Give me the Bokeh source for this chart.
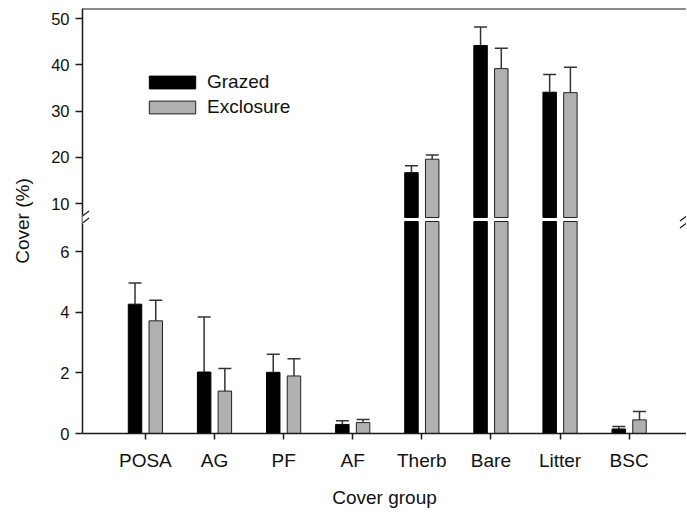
from bokeh.plotting import figure
from bokeh.models import (Range1d, ColumnDataSource, FixedTicker, Whisker, TeeHead,
                          Legend, LegendItem, Span, Arrow)
from bokeh.embed import file_html
from bokeh.resources import INLINE

# ---------------- data ----------------
categories = ["POSA", "AG", "PF", "AF", "Therb", "Bare", "Litter", "BSC"]
grazed = [4.27, 2.03, 2.02, 0.30, 16.7, 44.2, 34.1, 0.15]
grazed_err = [0.70, 1.82, 0.60, 0.12, 1.5, 4.0, 3.8, 0.08]
exclosure = [3.72, 1.40, 1.90, 0.36, 19.6, 39.2, 34.0, 0.45]
exclosure_err = [0.68, 0.75, 0.57, 0.10, 0.9, 4.4, 5.5, 0.28]
lower_ticks = [0, 2, 4, 6]
upper_ticks = [10, 20, 30, 40, 50]

# ---------------- layout constants ----------------
BREAK = 7.0
UPPER_TOP = 52.2
FRAME_W, FRAME_H = 604, 425
LOWER_PX, GAP_PX = 212, 4
UPPER_PX = FRAME_H - LOWER_PX - GAP_PX
X_START, X_END = 0.09, 8.83
DODGE, BAR_W = 0.15, 0.195
FONT = "Liberation Sans"
AX_COLOR = "#1a1a1a"
GRAY = "#b0b0b0"

main_end = BREAK * FRAME_H / LOWER_PX
px_main = FRAME_H / main_end
up_per_px = (UPPER_TOP - BREAK) / UPPER_PX
upper_start = BREAK - (LOWER_PX + GAP_PX) * up_per_px
px_x = FRAME_W / (X_END - X_START)


def upper_to_main(v):
    px = LOWER_PX + GAP_PX + (v - BREAK) / up_per_px
    return round(px / px_main, 6)


p = figure(frame_width=FRAME_W, frame_height=FRAME_H,
           x_range=Range1d(X_START, X_END), y_range=Range1d(0, main_end),
           output_backend="svg", toolbar_location=None,
           min_border_left=82, min_border_right=0, min_border_top=8, min_border_bottom=72)
p.extra_y_ranges = {"upper": Range1d(upper_start, UPPER_TOP)}
p.outline_line_color = None
p.xgrid.visible = False
p.ygrid.visible = False
p.background_fill_color = "white"

idx = list(range(1, len(categories) + 1))

series = [("Grazed", grazed, grazed_err, -DODGE, "black", "black"),
          ("Exclosure", exclosure, exclosure_err, DODGE, GRAY, "#222222")]
legend_items = []
for name, vals, errs, off, fill, line in series:
    xs = [i + off for i in idx]
    low_src = ColumnDataSource(dict(x=xs, top=[min(v, BREAK) for v in vals]))
    r = p.vbar(x="x", top="top", bottom=0, width=BAR_W, source=low_src,
               fill_color=fill, line_color=line, line_width=1)
    legend_items.append(LegendItem(label=name, renderers=[r]))
    up = [(x, v) for x, v in zip(xs, vals) if v > BREAK]
    up_src = ColumnDataSource(dict(x=[a for a, _ in up], top=[b for _, b in up]))
    p.vbar(x="x", top="top", bottom=BREAK, width=BAR_W, source=up_src,
           fill_color=fill, line_color=line, line_width=1, y_range_name="upper")
    # error bars
    lo = [(x, v, e) for x, v, e in zip(xs, vals, errs) if v <= BREAK]
    hi = [(x, v, e) for x, v, e in zip(xs, vals, errs) if v > BREAK]
    for grp, rng in ((lo, "default"), (hi, "upper")):
        src = ColumnDataSource(dict(x=[g[0] for g in grp], lower=[g[1] for g in grp],
                                    upper=[g[1] + g[2] for g in grp]))
        w = Whisker(base="x", lower="lower", upper="upper", source=src, dimension="height",
                    line_color="#333333", line_width=1.5, lower_head=None,
                    upper_head=TeeHead(size=13, line_color="#333333", line_width=1.5),
                    level="annotation")
        if rng == "upper":
            w.y_range_name = "upper"
        p.add_layout(w)

# axes
p.xaxis.ticker = FixedTicker(ticks=idx)
p.xaxis.major_label_overrides = {i: c for i, c in zip(idx, categories)}
p.xaxis.axis_label = "Cover group"
mapped = [upper_to_main(v) for v in upper_ticks]
p.yaxis.ticker = FixedTicker(ticks=lower_ticks + mapped)
p.yaxis.major_label_overrides = {m: str(v) for m, v in zip(mapped, upper_ticks)}
p.yaxis.axis_label = "Cover (%)"
for ax in (p.xaxis[0], p.yaxis[0]):
    ax.axis_line_color = AX_COLOR
    ax.axis_line_width = 1.5
    ax.major_tick_line_color = AX_COLOR
    ax.major_tick_line_width = 1.5
    ax.major_tick_in = 0
    ax.minor_tick_line_color = None
    ax.major_label_text_font = FONT
    ax.major_label_text_color = "#111111"
    ax.axis_label_text_font = FONT
    ax.axis_label_text_font_size = "19px"
    ax.axis_label_text_font_style = "normal"
    ax.axis_label_text_color = "#111111"
p.xaxis.major_label_text_font_size = "19px"
p.yaxis.major_label_text_font_size = "16.5px"
p.xaxis.major_tick_out = 6
p.xaxis.major_label_standoff = 10
p.xaxis.axis_label_standoff = 13
p.yaxis.major_tick_out = 7
p.yaxis.major_label_standoff = 6
p.yaxis.axis_label_standoff = 15

# top border
p.add_layout(Span(location=UPPER_TOP, dimension="width", y_range_name="upper",
                  line_color=AX_COLOR, line_width=2))

# axis break marks
bc = (LOWER_PX + GAP_PX / 2) / px_main
for xb in (X_START, X_END):
    p.add_layout(Arrow(end=None, x_start=xb, x_end=xb,
                       y_start=bc - 4.5 / px_main, y_end=bc + 4.5 / px_main,
                       line_color="white", line_width=4))
    for dy in (-3.5, 3.5):
        yc = bc + dy / px_main
        p.add_layout(Arrow(end=None, x_start=xb - 6.5 / px_x, x_end=xb + 6.5 / px_x,
                           y_start=yc - 5 / px_main, y_end=yc + 5 / px_main,
                           line_color=AX_COLOR, line_width=1.2))

legend = Legend(items=legend_items, location=(61, 315), orientation="vertical",
                glyph_width=58, glyph_height=16, label_standoff=6, spacing=3, padding=0,
                margin=0, border_line_color=None, background_fill_alpha=0,
                label_text_font=FONT, label_text_font_size="19px", label_text_color="#111111")
p.add_layout(legend)

open("out.html", "w").write(file_html(p, INLINE))
